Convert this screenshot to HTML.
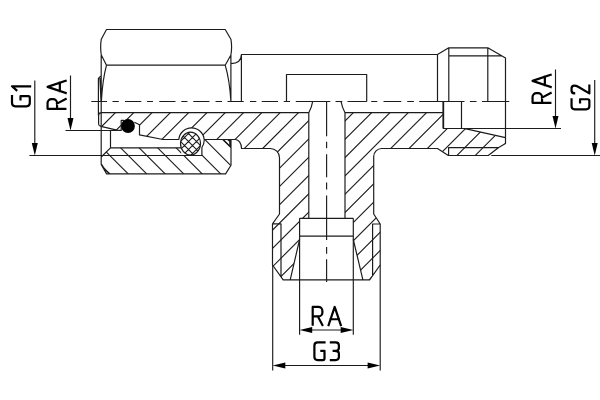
<!DOCTYPE html>
<html><head><meta charset="utf-8"><title>Fitting</title>
<style>html,body{margin:0;padding:0;background:#fff;font-family:"Liberation Sans",sans-serif;}svg{display:block}</style>
</head><body>
<svg width="600" height="400" viewBox="0 0 600 400">
<rect width="600" height="400" fill="#fff"/>
<clipPath id="cb"><path d="M101.5,112.7 H308.8 V218.3 H299.6 V239.5 L290.2,279.8 H283.2 L272.5,265 V223.8 L279.5,214 V157.7 A9.2,9.2 0 0 0 270.3,148.5 H241.5 A6.2,8.9 0 0 0 235.4,139.5 H204.2 A12.75,12.75 0 0 0 178.8,139.5 H163 L139.5,134.9 V124.8 L131,120.6 L121.2,120.4 V130.4 H118 L100.9,126.4 Q98.6,125.8 98.6,124 V115.5 Q98.6,112.7 101.5,112.7 Z"/><path d="M345,112.7 H443 V128.5 H465 L505.5,137.7 V143.5 L498.3,147.7 L488.3,155.5 H448.3 L437.5,148.5 H381.7 A8,8 0 0 0 373.7,156.5 V214 L380.2,224 V265 L369.6,279.8 H362.9 L353.3,239.5 V218.3 H345 Z"/></clipPath>
<clipPath id="cn"><path d="M110.5,147.8 H181.2 L181.2,155.5 H201.9 V142.8 L204.6,139.4 H231 V165.2 L225.6,173.9 H106.6 L101.2,164.4 V156.6 Z"/></clipPath>
<clipPath id="cr"><ellipse cx="190.5" cy="143.6" rx="10.0" ry="11.4"/></clipPath>
<path clip-path="url(#cb)" d="M138.10,90 L-71.90,300 M156.40,90 L-53.60,300 M174.70,90 L-35.30,300 M193.00,90 L-17.00,300 M211.30,90 L1.30,300 M229.60,90 L19.60,300 M247.90,90 L37.90,300 M266.20,90 L56.20,300 M284.50,90 L74.50,300 M302.80,90 L92.80,300 M321.10,90 L111.10,300 M339.40,90 L129.40,300 M357.70,90 L147.70,300 M376.00,90 L166.00,300 M394.30,90 L184.30,300 M412.60,90 L202.60,300 M430.90,90 L220.90,300 M449.20,90 L239.20,300 M467.50,90 L257.50,300 M485.80,90 L275.80,300 M504.10,90 L294.10,300 M522.40,90 L312.40,300 M540.70,90 L330.70,300 M559.00,90 L349.00,300 M577.30,90 L367.30,300 M595.60,90 L385.60,300" stroke="#1c1c1c" stroke-width="1.12" fill="none"/>
<path clip-path="url(#cn)" d="M59.80,124 L114.80,179 M78.30,124 L133.30,179 M96.80,124 L151.80,179 M115.30,124 L170.30,179 M133.80,124 L188.80,179 M152.30,124 L207.30,179 M170.80,124 L225.80,179 M189.30,124 L244.30,179 M207.80,124 L262.80,179" stroke="#1c1c1c" stroke-width="1.12" fill="none"/>
<path clip-path="url(#cr)" d="M181.00,125 L146.00,160 M148.00,125 L183.00,160 M189.00,125 L154.00,160 M156.00,125 L191.00,160 M197.00,125 L162.00,160 M164.00,125 L199.00,160 M205.00,125 L170.00,160 M172.00,125 L207.00,160 M213.00,125 L178.00,160 M180.00,125 L215.00,160 M221.00,125 L186.00,160 M188.00,125 L223.00,160 M229.00,125 L194.00,160 M196.00,125 L231.00,160 M237.00,125 L202.00,160 M204.00,125 L239.00,160" stroke="#1c1c1c" stroke-width="1.12" fill="none"/>
<path d="M106.5,29.5 H225.2 L230.9,39.2 Q232.3,47 230.9,55 L225.2,65.2 H106.5 L101.3,55 Q100,47 101.3,39.2 Z M101.2,55 V164.4 L106.6,173.9 H225.6 L231,165.2 V139.5 M101.8,164.6 Q104.5,170.3 110,173.9 M106.5,65.2 Q102.5,80 101.4,101.3 M225.2,65.2 Q229.6,80 230.9,101.3 M230.9,55 V101.3 M101.3,76 L100.2,76.6 L98.4,78.4 V115.5 M99.9,78 L101,101.3 M101.5,112.7 H308.8 M101.5,112.7 Q98.6,112.7 98.6,115.5 V124 Q98.6,125.8 100.9,126.4 L118,130.4 H121.2 V120.4 H124 M134.4,122.2 L139.5,124.8 V134.9 L163,139.5 H178.8 A12.75,12.75 0 0 1 204.2,139.5 H235.4 A6.2,8.9 0 0 1 241.5,148.5 H270.3 A9.2,9.2 0 0 1 279.5,157.7 V214 L272.5,223.8 V265 L283.2,279.8 H369.6 L380.2,265 V224 L373.7,214 V156.5 A8,8 0 0 1 381.7,148.5 H437.5 L448.3,155.5 H488.3 L498.3,147.7 L505.5,143.5 V58 L487.8,47.8 H448.8 L437.5,54.5 H241.4 V101.3 M204.2,139.5 Q204.5,143.5 201.9,147.5 V155.5 M110.5,130.4 V147.8 H181 M110.5,147.8 L101.2,157 M101.2,155.5 H201.9 M229.8,139.5 V147 M222.7,139.5 L231,147.6 M227.7,139.5 L231,142.6 M230.9,63.6 Q241.2,63.6 241.4,54.5 M286.5,101.5 V74.5 H366.7 V101.5 M308.8,112.7 V218.3 M299.6,218.3 H353.3 M345,112.7 V218.3 M299.6,218.3 V239.5 L290.2,279.8 M353.3,218.3 V239.5 L362.9,279.8 M299.6,236.2 H353.3 M308.8,112.7 Q311.8,107 312.7,101.3 M345,112.7 Q342,107 341,101.3 M272.5,223.8 H281 V276.5 M380.2,224 H372.6 V276 M345,112.7 H443 M437.5,54.5 V101.3 M448.8,47.8 V101.3 M487.8,47.8 V101.3 M448.8,55.9 H501.5 M443,101.5 V128.5 M443.6,101.5 V128.5 M461.5,101.5 V128.5 M443,128.5 H505.5 M465,128.6 L505.5,137.7 M448.6,155.5 V147.6 H498.3" stroke="#1c1c1c" stroke-width="1.18" fill="none" stroke-linejoin="round"/>
<ellipse cx="190.5" cy="143.6" rx="10.0" ry="11.4" stroke="#1c1c1c" stroke-width="1.18" fill="none"/>
<circle cx="128" cy="126" r="6.9" fill="#000"/>
<path d="M91.3,101.5 H107 M112.5,101.5 H118.8 M125,101.5 H141.3 M147,101.5 H153 M159.3,101.5 H175.5 M181.3,101.5 H187.5 M193.3,101.5 H209.5 M215.5,101.5 H222 M227.5,101.5 H243.8 M250,101.5 H256.3 M261.8,101.5 H278 M283.8,101.5 H290 M295.8,101.5 H330.3 M335.5,101.5 H342.3 M347.5,101.5 H366.8 M371.2,101.5 H377.3 M383.5,101.5 H401.3 M407.2,101.5 H413.9 M419.2,101.5 H464.5 M469.9,101.5 H476.5 M482,101.5 H509.3 M326.6,101.3 V136.3 M326.6,141.8 V148.3 M326.6,154.3 V177.3 M326.6,182.6 V189.6 M326.6,195.5 V240 M326.6,247 V253.8 M326.6,259.3 V282" stroke="#1c1c1c" stroke-width="1.15" fill="none"/>
<path d="M34.8,80.5 V150 M29.4,155.5 H101.2 M70.5,75.5 V125 M65.5,130.5 H117 M555.5,69.5 V122 M505.5,128.5 H561 M594.7,80 V150 M491.3,155.5 H600 M299.6,239.5 V334.7 M353.3,239.5 V334.7 M305,330 H348 M272.7,265 V370.6 M380.2,265 V370.6 M278,365.5 H375" stroke="#1c1c1c" stroke-width="1.15" fill="none"/>
<polygon points="34.8,155.5 31.80,142.90 37.80,142.90" fill="#000"/>
<polygon points="70.5,130.5 67.50,117.90 73.50,117.90" fill="#000"/>
<polygon points="555.5,128.5 552.50,115.90 558.50,115.90" fill="#000"/>
<polygon points="594.7,155.5 591.70,142.90 597.70,142.90" fill="#000"/>
<polygon points="299.6,330 312.20,327.00 312.20,333.00" fill="#000"/>
<polygon points="353.3,330 340.70,333.00 340.70,327.00" fill="#000"/>
<polygon points="272.7,365.5 285.30,362.50 285.30,368.50" fill="#000"/>
<polygon points="380.2,365.5 367.60,368.50 367.60,362.50" fill="#000"/>
<path transform="translate(312.7,324.75)" d="M0,0 V-17.8 H5.7 A4,4 0 0 1 9.7,-13.8 V-12.3 A4,4 0 0 1 5.7,-8.3 H0 M5.2,-8.3 L9.7,0.3" stroke="#000" stroke-width="2.2" fill="none" stroke-linecap="square" stroke-linejoin="round"/>
<path transform="translate(328.6,324.75)" d="M0,0.3 L6.1,-17.8 L12.2,0.3 M1.9,-5.5 H10.3" stroke="#000" stroke-width="2.2" fill="none" stroke-linecap="square" stroke-linejoin="round"/>
<path transform="translate(314.4,360.1)" d="M10.1,-17.8 H3.2 Q0,-17.8 0,-14.6 V-3.2 Q0,0 3.2,0 H8.6 Q10.1,0 10.1,-1.5 V-9.3 H7" stroke="#000" stroke-width="2.2" fill="none" stroke-linecap="square" stroke-linejoin="round"/>
<path transform="translate(330.9,360.1)" d="M0,-17.8 H4.8 Q8,-17.8 8,-14.6 V-12.3 Q8,-9.3 5,-9.3 H2.8 M5,-9.3 Q8,-9.3 8,-6.3 V-3.2 Q8,0 4.8,0 H0" stroke="#000" stroke-width="2.2" fill="none" stroke-linecap="square" stroke-linejoin="round"/>
<path transform="translate(29.8,106.3) rotate(-90)" d="M10.1,-17.8 H3.2 Q0,-17.8 0,-14.6 V-3.2 Q0,0 3.2,0 H8.6 Q10.1,0 10.1,-1.5 V-9.3 H7" stroke="#000" stroke-width="2.2" fill="none" stroke-linecap="square" stroke-linejoin="round"/>
<path transform="translate(29.8,86.3) rotate(-90)" d="M-3.9,-13.4 L0,-17.8 V0.3" stroke="#000" stroke-width="2.2" fill="none" stroke-linecap="square" stroke-linejoin="round"/>
<path transform="translate(65.35,108.8) rotate(-90)" d="M0,0 V-17.8 H5.7 A4,4 0 0 1 9.7,-13.8 V-12.3 A4,4 0 0 1 5.7,-8.3 H0 M5.2,-8.3 L9.7,0.3" stroke="#000" stroke-width="2.2" fill="none" stroke-linecap="square" stroke-linejoin="round"/>
<path transform="translate(65.35,93) rotate(-90)" d="M0,0.3 L6.1,-17.8 L12.2,0.3 M1.9,-5.5 H10.3" stroke="#000" stroke-width="2.2" fill="none" stroke-linecap="square" stroke-linejoin="round"/>
<path transform="translate(550.35,102.8) rotate(-90)" d="M0,0 V-17.8 H5.7 A4,4 0 0 1 9.7,-13.8 V-12.3 A4,4 0 0 1 5.7,-8.3 H0 M5.2,-8.3 L9.7,0.3" stroke="#000" stroke-width="2.2" fill="none" stroke-linecap="square" stroke-linejoin="round"/>
<path transform="translate(550.35,87) rotate(-90)" d="M0,0.3 L6.1,-17.8 L12.2,0.3 M1.9,-5.5 H10.3" stroke="#000" stroke-width="2.2" fill="none" stroke-linecap="square" stroke-linejoin="round"/>
<path transform="translate(589.35,109.35) rotate(-90)" d="M10.1,-17.8 H3.2 Q0,-17.8 0,-14.6 V-3.2 Q0,0 3.2,0 H8.6 Q10.1,0 10.1,-1.5 V-9.3 H7" stroke="#000" stroke-width="2.2" fill="none" stroke-linecap="square" stroke-linejoin="round"/>
<path transform="translate(589.35,93.35) rotate(-90)" d="M0,-15.2 Q0,-17.8 2.8,-17.8 H5 Q7.8,-17.8 7.8,-15 Q7.8,-13 6.6,-11.2 L0,0 H7.8" stroke="#000" stroke-width="2.2" fill="none" stroke-linecap="square" stroke-linejoin="round"/>
</svg>
</body></html>
